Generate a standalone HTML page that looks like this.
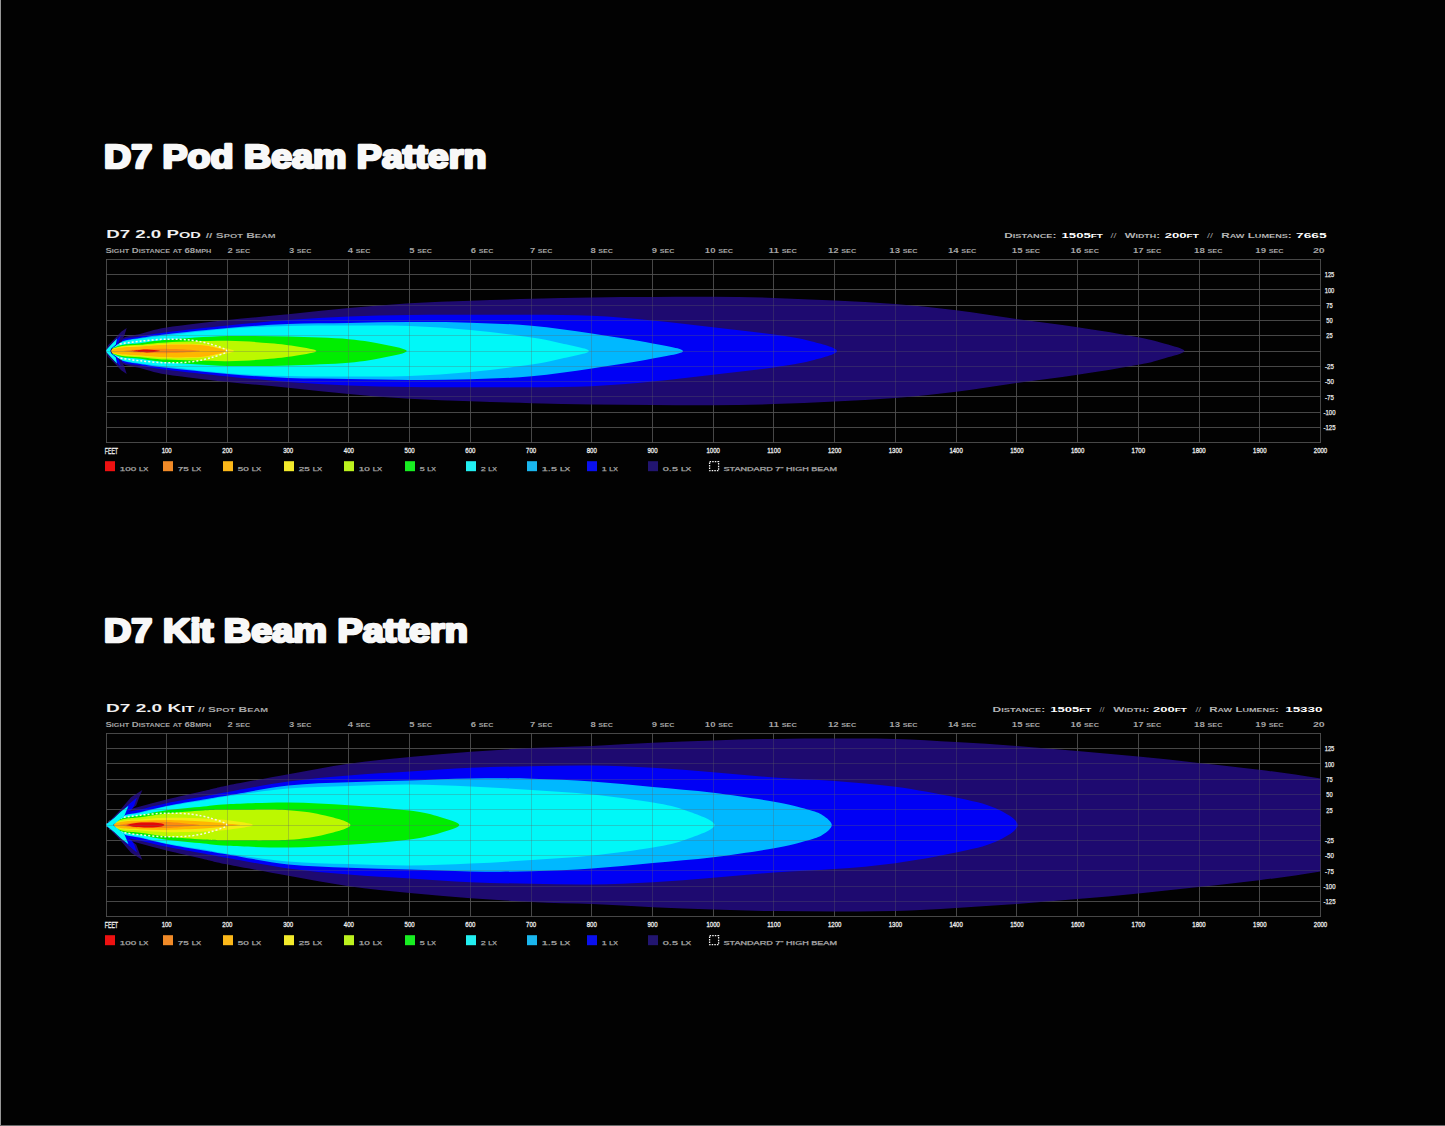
<!DOCTYPE html>
<html><head><meta charset="utf-8"><title>D7 Beam Pattern</title>
<style>
html,body{margin:0;padding:0;background:#020202;width:1445px;height:1126px;overflow:hidden}
svg{display:block;font-family:"Liberation Sans",sans-serif}
</style></head><body>
<svg width="1445" height="1126" viewBox="0 0 1445 1126">
<rect width="1445" height="1126" fill="#020202"/>
<rect x="0" y="0" width="1" height="1126" fill="#979797"/>
<rect x="0" y="1125" width="1445" height="1" fill="#6a6a6a"/>
<g>
<clipPath id="clip0"><rect x="106.0" y="259.4" width="1214.5" height="183.2"/></clipPath>
<g stroke="#3c3c3c" stroke-width="1" shape-rendering="crispEdges"><line x1="106.5" y1="259.0" x2="106.5" y2="443.0"/><line x1="166.5" y1="259.0" x2="166.5" y2="443.0"/><line x1="227.5" y1="259.0" x2="227.5" y2="443.0"/><line x1="288.5" y1="259.0" x2="288.5" y2="443.0"/><line x1="348.5" y1="259.0" x2="348.5" y2="443.0"/><line x1="409.5" y1="259.0" x2="409.5" y2="443.0"/><line x1="470.5" y1="259.0" x2="470.5" y2="443.0"/><line x1="531.5" y1="259.0" x2="531.5" y2="443.0"/><line x1="591.5" y1="259.0" x2="591.5" y2="443.0"/><line x1="652.5" y1="259.0" x2="652.5" y2="443.0"/><line x1="713.5" y1="259.0" x2="713.5" y2="443.0"/><line x1="773.5" y1="259.0" x2="773.5" y2="443.0"/><line x1="834.5" y1="259.0" x2="834.5" y2="443.0"/><line x1="895.5" y1="259.0" x2="895.5" y2="443.0"/><line x1="956.5" y1="259.0" x2="956.5" y2="443.0"/><line x1="1016.5" y1="259.0" x2="1016.5" y2="443.0"/><line x1="1077.5" y1="259.0" x2="1077.5" y2="443.0"/><line x1="1138.5" y1="259.0" x2="1138.5" y2="443.0"/><line x1="1199.5" y1="259.0" x2="1199.5" y2="443.0"/><line x1="1259.5" y1="259.0" x2="1259.5" y2="443.0"/><line x1="1320.5" y1="259.0" x2="1320.5" y2="443.0"/><line x1="106.0" y1="259.5" x2="1321.0" y2="259.5"/><line x1="106.0" y1="274.5" x2="1321.0" y2="274.5"/><line x1="106.0" y1="289.5" x2="1321.0" y2="289.5"/><line x1="106.0" y1="305.5" x2="1321.0" y2="305.5"/><line x1="106.0" y1="320.5" x2="1321.0" y2="320.5"/><line x1="106.0" y1="335.5" x2="1321.0" y2="335.5"/><line x1="106.0" y1="351.5" x2="1321.0" y2="351.5"/><line x1="106.0" y1="366.5" x2="1321.0" y2="366.5"/><line x1="106.0" y1="381.5" x2="1321.0" y2="381.5"/><line x1="106.0" y1="396.5" x2="1321.0" y2="396.5"/><line x1="106.0" y1="412.5" x2="1321.0" y2="412.5"/><line x1="106.0" y1="427.5" x2="1321.0" y2="427.5"/><line x1="106.0" y1="442.5" x2="1321.0" y2="442.5"/></g>
<g clip-path="url(#clip0)">
<path fill="#1e0a70" d="M106.00,351.00 C108.67,348.92 116.33,341.33 122.00,338.50 C127.67,335.67 132.57,335.83 140.00,334.00 C147.43,332.17 152.00,329.83 166.60,327.50 C181.20,325.17 207.33,322.20 227.60,320.00 C247.87,317.80 268.02,316.30 288.20,314.30 C308.38,312.30 328.48,309.85 348.70,308.00 C368.92,306.15 389.18,304.42 409.50,303.20 C429.82,301.98 450.27,301.43 470.60,300.70 C490.93,299.97 511.30,299.35 531.50,298.80 C551.70,298.25 571.60,297.70 591.80,297.40 C612.00,297.10 632.48,297.10 652.70,297.00 C672.92,296.90 692.92,296.65 713.10,296.80 C733.28,296.95 753.53,297.28 773.80,297.90 C794.07,298.52 814.43,299.48 834.70,300.50 C854.97,301.52 875.13,302.38 895.40,304.00 C915.67,305.62 936.10,307.70 956.30,310.20 C976.50,312.70 996.37,316.17 1016.60,319.00 C1036.83,321.83 1057.37,324.17 1077.70,327.20 C1098.03,330.23 1124.05,334.43 1138.60,337.20 C1153.15,339.97 1157.37,341.50 1165.00,343.80 C1172.63,346.10 1184.40,348.60 1184.40,351.00 C1184.40,353.40 1172.63,355.90 1165.00,358.20 C1157.37,360.50 1153.15,362.03 1138.60,364.80 C1124.05,367.57 1098.03,371.77 1077.70,374.80 C1057.37,377.83 1036.83,380.17 1016.60,383.00 C996.37,385.83 976.50,389.30 956.30,391.80 C936.10,394.30 915.67,396.38 895.40,398.00 C875.13,399.62 854.97,400.48 834.70,401.50 C814.43,402.52 794.07,403.48 773.80,404.10 C753.53,404.72 733.28,405.05 713.10,405.20 C692.92,405.35 672.92,405.10 652.70,405.00 C632.48,404.90 612.00,404.90 591.80,404.60 C571.60,404.30 551.70,403.75 531.50,403.20 C511.30,402.65 490.93,402.03 470.60,401.30 C450.27,400.57 429.82,400.02 409.50,398.80 C389.18,397.58 368.92,395.85 348.70,394.00 C328.48,392.15 308.38,389.70 288.20,387.70 C268.02,385.70 247.87,384.20 227.60,382.00 C207.33,379.80 181.20,376.83 166.60,374.50 C152.00,372.17 147.43,369.83 140.00,368.00 C132.57,366.17 127.67,366.33 122.00,363.50 C116.33,360.67 108.67,353.08 106.00,351.00 Z"/>
<path fill="#0000f5" d="M106.00,351.00 C108.67,349.17 116.33,342.42 122.00,340.00 C127.67,337.58 132.57,337.80 140.00,336.50 C147.43,335.20 152.00,334.03 166.60,332.20 C181.20,330.37 207.33,327.53 227.60,325.50 C247.87,323.47 268.02,321.50 288.20,320.00 C308.38,318.50 328.48,317.33 348.70,316.50 C368.92,315.67 389.18,315.28 409.50,315.00 C429.82,314.72 450.27,314.85 470.60,314.80 C490.93,314.75 511.30,314.53 531.50,314.70 C551.70,314.87 571.60,314.85 591.80,315.80 C612.00,316.75 632.48,318.50 652.70,320.40 C672.92,322.30 692.92,324.83 713.10,327.20 C733.28,329.57 757.65,332.30 773.80,334.60 C789.95,336.90 799.47,338.27 810.00,341.00 C820.53,343.73 837.00,347.67 837.00,351.00 C837.00,354.33 820.53,358.27 810.00,361.00 C799.47,363.73 789.95,365.10 773.80,367.40 C757.65,369.70 733.28,372.43 713.10,374.80 C692.92,377.17 672.92,379.70 652.70,381.60 C632.48,383.50 612.00,385.25 591.80,386.20 C571.60,387.15 551.70,387.13 531.50,387.30 C511.30,387.47 490.93,387.25 470.60,387.20 C450.27,387.15 429.82,387.28 409.50,387.00 C389.18,386.72 368.92,386.33 348.70,385.50 C328.48,384.67 308.38,383.50 288.20,382.00 C268.02,380.50 247.87,378.53 227.60,376.50 C207.33,374.47 181.20,371.63 166.60,369.80 C152.00,367.97 147.43,366.80 140.00,365.50 C132.57,364.20 127.67,364.42 122.00,362.00 C116.33,359.58 108.67,352.83 106.00,351.00 Z"/>
<path fill="#00b8ff" d="M106.00,351.00 C108.67,349.42 116.33,343.67 122.00,341.50 C127.67,339.33 132.57,339.22 140.00,338.00 C147.43,336.78 152.00,335.87 166.60,334.20 C181.20,332.53 207.33,329.70 227.60,328.00 C247.87,326.30 268.02,324.83 288.20,324.00 C308.38,323.17 328.48,323.32 348.70,323.00 C368.92,322.68 389.18,322.15 409.50,322.10 C429.82,322.05 450.27,322.10 470.60,322.70 C490.93,323.30 511.30,323.92 531.50,325.70 C551.70,327.48 571.60,330.45 591.80,333.40 C612.00,336.35 637.48,340.47 652.70,343.40 C667.92,346.33 683.10,348.47 683.10,351.00 C683.10,353.53 667.92,355.67 652.70,358.60 C637.48,361.53 612.00,365.65 591.80,368.60 C571.60,371.55 551.70,374.52 531.50,376.30 C511.30,378.08 490.93,378.70 470.60,379.30 C450.27,379.90 429.82,379.95 409.50,379.90 C389.18,379.85 368.92,379.32 348.70,379.00 C328.48,378.68 308.38,378.83 288.20,378.00 C268.02,377.17 247.87,375.70 227.60,374.00 C207.33,372.30 181.20,369.47 166.60,367.80 C152.00,366.13 147.43,365.22 140.00,364.00 C132.57,362.78 127.67,362.67 122.00,360.50 C116.33,358.33 108.67,352.58 106.00,351.00 Z"/>
<path fill="#00f8f8" d="M106.00,351.00 C108.67,349.50 116.33,344.05 122.00,342.00 C127.67,339.95 132.57,339.78 140.00,338.70 C147.43,337.62 152.00,337.17 166.60,335.50 C181.20,333.83 207.33,330.28 227.60,328.70 C247.87,327.12 268.02,326.53 288.20,326.00 C308.38,325.47 328.48,325.50 348.70,325.50 C368.92,325.50 389.18,325.25 409.50,326.00 C429.82,326.75 450.27,328.10 470.60,330.00 C490.93,331.90 516.27,335.15 531.50,337.40 C546.73,339.65 552.43,341.23 562.00,343.50 C571.57,345.77 588.90,348.50 588.90,351.00 C588.90,353.50 571.57,356.23 562.00,358.50 C552.43,360.77 546.73,362.35 531.50,364.60 C516.27,366.85 490.93,370.10 470.60,372.00 C450.27,373.90 429.82,375.25 409.50,376.00 C389.18,376.75 368.92,376.50 348.70,376.50 C328.48,376.50 308.38,376.53 288.20,376.00 C268.02,375.47 247.87,374.88 227.60,373.30 C207.33,371.72 181.20,368.17 166.60,366.50 C152.00,364.83 147.43,364.38 140.00,363.30 C132.57,362.22 127.67,362.05 122.00,360.00 C116.33,357.95 108.67,352.50 106.00,351.00 Z"/>
<path fill="#00ee00" d="M106.00,351.00 C108.67,350.00 116.33,346.30 122.00,345.00 C127.67,343.70 132.57,344.07 140.00,343.20 C147.43,342.33 152.00,340.98 166.60,339.80 C181.20,338.62 207.33,336.63 227.60,336.10 C247.87,335.57 268.02,336.08 288.20,336.60 C308.38,337.12 332.57,337.85 348.70,339.20 C364.83,340.55 375.32,342.73 385.00,344.70 C394.68,346.67 406.80,348.90 406.80,351.00 C406.80,353.10 394.68,355.33 385.00,357.30 C375.32,359.27 364.83,361.45 348.70,362.80 C332.57,364.15 308.38,364.88 288.20,365.40 C268.02,365.92 247.87,366.43 227.60,365.90 C207.33,365.37 181.20,363.38 166.60,362.20 C152.00,361.02 147.43,359.67 140.00,358.80 C132.57,357.93 127.67,358.30 122.00,357.00 C116.33,355.70 108.67,352.00 106.00,351.00 Z"/>
<path fill="#bcf800" d="M106.00,351.00 C108.67,350.17 116.33,347.03 122.00,346.00 C127.67,344.97 132.57,345.40 140.00,344.80 C147.43,344.20 152.00,343.07 166.60,342.40 C181.20,341.73 210.37,340.67 227.60,340.80 C244.83,340.93 258.43,342.25 270.00,343.20 C281.57,344.15 289.25,345.20 297.00,346.50 C304.75,347.80 316.50,349.50 316.50,351.00 C316.50,352.50 304.75,354.20 297.00,355.50 C289.25,356.80 281.57,357.85 270.00,358.80 C258.43,359.75 244.83,361.07 227.60,361.20 C210.37,361.33 181.20,360.27 166.60,359.60 C152.00,358.93 147.43,357.80 140.00,357.20 C132.57,356.60 127.67,357.03 122.00,356.00 C116.33,354.97 108.67,351.83 106.00,351.00 Z"/>
<path fill="#f2ee10" d="M106.00,351.00 C108.67,350.30 116.33,347.67 122.00,346.80 C127.67,345.93 132.57,346.28 140.00,345.80 C147.43,345.32 156.60,344.17 166.60,343.90 C176.60,343.63 190.77,343.60 200.00,344.20 C209.23,344.80 216.33,346.37 222.00,347.50 C227.67,348.63 234.00,349.83 234.00,351.00 C234.00,352.17 227.67,353.37 222.00,354.50 C216.33,355.63 209.23,357.20 200.00,357.80 C190.77,358.40 176.60,358.37 166.60,358.10 C156.60,357.83 147.43,356.68 140.00,356.20 C132.57,355.72 127.67,356.07 122.00,355.20 C116.33,354.33 108.67,351.70 106.00,351.00 Z"/>
<path fill="#ffb600" d="M106.00,351.00 C108.67,350.43 116.33,348.33 122.00,347.60 C127.67,346.87 132.57,347.07 140.00,346.60 C147.43,346.13 156.60,345.07 166.60,344.80 C176.60,344.53 191.93,344.55 200.00,345.00 C208.07,345.45 210.67,346.50 215.00,347.50 C219.33,348.50 226.00,349.83 226.00,351.00 C226.00,352.17 219.33,353.50 215.00,354.50 C210.67,355.50 208.07,356.55 200.00,357.00 C191.93,357.45 176.60,357.47 166.60,357.20 C156.60,356.93 147.43,355.87 140.00,355.40 C132.57,354.93 127.67,355.13 122.00,354.40 C116.33,353.67 108.67,351.57 106.00,351.00 Z"/>
<path fill="#fa8a10" d="M122.00,351.00 C124.50,350.73 130.67,349.77 137.00,349.40 C143.33,349.03 152.00,348.78 160.00,348.80 C168.00,348.82 178.33,349.13 185.00,349.50 C191.67,349.87 200.00,350.50 200.00,351.00 C200.00,351.50 191.67,352.13 185.00,352.50 C178.33,352.87 168.00,353.18 160.00,353.20 C152.00,353.22 143.33,352.97 137.00,352.60 C130.67,352.23 124.50,351.27 122.00,351.00 Z"/>
<path fill="#e20808" d="M130.50,351.00 C132.08,350.83 137.25,350.23 140.00,350.00 C142.75,349.77 144.67,349.58 147.00,349.60 C149.33,349.62 151.83,349.87 154.00,350.10 C156.17,350.33 160.00,350.70 160.00,351.00 C160.00,351.30 156.17,351.67 154.00,351.90 C151.83,352.13 149.33,352.38 147.00,352.40 C144.67,352.42 142.75,352.23 140.00,352.00 C137.25,351.77 132.08,351.17 130.50,351.00 Z"/>
<path d="M106.00,351.00 C107.00,350.17 109.92,347.13 112.00,346.00 C114.08,344.87 113.83,345.00 118.50,344.20 C123.17,343.40 132.00,342.03 140.00,341.20 C148.00,340.37 158.00,339.37 166.50,339.20 C175.00,339.03 183.65,339.37 191.00,340.20 C198.35,341.03 204.63,342.40 210.60,344.20 C216.57,346.00 226.80,348.73 226.80,351.00 C226.80,353.27 216.57,356.00 210.60,357.80 C204.63,359.60 198.35,360.97 191.00,361.80 C183.65,362.63 175.00,362.97 166.50,362.80 C158.00,362.63 148.00,361.63 140.00,360.80 C132.00,359.97 123.17,358.60 118.50,357.80 C113.83,357.00 114.08,357.13 112.00,356.00 C109.92,354.87 107.00,351.83 106.00,351.00 Z" fill="none" stroke="#f6f6e6" stroke-width="1.5" stroke-dasharray="2 2"/>
<polygon fill="#1e0a70" points="105.40,351.00 108.00,345.20 115.00,338.30 121.20,331.80 126.70,327.90 124.60,334.80 121.70,341.50 113.00,347.50 111.00,351.00 113.00,354.50 121.70,360.50 124.60,367.20 126.70,374.10 121.20,370.20 115.00,363.70 108.00,356.80"/>
<polygon fill="#0000f5" points="105.40,351.00 108.60,348.20 114.20,342.30 120.60,335.60 119.00,341.80 117.50,344.20 111.50,348.60 110.00,351.00 111.50,353.40 117.50,357.80 119.00,360.20 120.60,366.40 114.20,359.70 108.60,353.80"/>
<polygon fill="#00f8f8" points="105.40,351.00 107.60,348.40 112.00,343.80 117.00,338.60 115.80,344.60 111.20,348.60 110.20,351.00 111.20,353.40 115.80,357.40 117.00,363.40 112.00,358.20 107.60,353.60"/>
</g>
<g stroke="rgba(100,100,100,0.3)" stroke-width="1" shape-rendering="crispEdges"><line x1="106.5" y1="259.0" x2="106.5" y2="443.0"/><line x1="166.5" y1="259.0" x2="166.5" y2="443.0"/><line x1="227.5" y1="259.0" x2="227.5" y2="443.0"/><line x1="288.5" y1="259.0" x2="288.5" y2="443.0"/><line x1="348.5" y1="259.0" x2="348.5" y2="443.0"/><line x1="409.5" y1="259.0" x2="409.5" y2="443.0"/><line x1="470.5" y1="259.0" x2="470.5" y2="443.0"/><line x1="531.5" y1="259.0" x2="531.5" y2="443.0"/><line x1="591.5" y1="259.0" x2="591.5" y2="443.0"/><line x1="652.5" y1="259.0" x2="652.5" y2="443.0"/><line x1="713.5" y1="259.0" x2="713.5" y2="443.0"/><line x1="773.5" y1="259.0" x2="773.5" y2="443.0"/><line x1="834.5" y1="259.0" x2="834.5" y2="443.0"/><line x1="895.5" y1="259.0" x2="895.5" y2="443.0"/><line x1="956.5" y1="259.0" x2="956.5" y2="443.0"/><line x1="1016.5" y1="259.0" x2="1016.5" y2="443.0"/><line x1="1077.5" y1="259.0" x2="1077.5" y2="443.0"/><line x1="1138.5" y1="259.0" x2="1138.5" y2="443.0"/><line x1="1199.5" y1="259.0" x2="1199.5" y2="443.0"/><line x1="1259.5" y1="259.0" x2="1259.5" y2="443.0"/><line x1="1320.5" y1="259.0" x2="1320.5" y2="443.0"/><line x1="106.0" y1="259.5" x2="1321.0" y2="259.5"/><line x1="106.0" y1="274.5" x2="1321.0" y2="274.5"/><line x1="106.0" y1="289.5" x2="1321.0" y2="289.5"/><line x1="106.0" y1="305.5" x2="1321.0" y2="305.5"/><line x1="106.0" y1="320.5" x2="1321.0" y2="320.5"/><line x1="106.0" y1="335.5" x2="1321.0" y2="335.5"/><line x1="106.0" y1="351.5" x2="1321.0" y2="351.5"/><line x1="106.0" y1="366.5" x2="1321.0" y2="366.5"/><line x1="106.0" y1="381.5" x2="1321.0" y2="381.5"/><line x1="106.0" y1="396.5" x2="1321.0" y2="396.5"/><line x1="106.0" y1="412.5" x2="1321.0" y2="412.5"/><line x1="106.0" y1="427.5" x2="1321.0" y2="427.5"/><line x1="106.0" y1="442.5" x2="1321.0" y2="442.5"/></g>
</g>
<g>
<clipPath id="clip474"><rect x="106.0" y="733.4" width="1214.5" height="183.2"/></clipPath>
<g stroke="#3c3c3c" stroke-width="1" shape-rendering="crispEdges"><line x1="106.5" y1="733.0" x2="106.5" y2="917.0"/><line x1="166.5" y1="733.0" x2="166.5" y2="917.0"/><line x1="227.5" y1="733.0" x2="227.5" y2="917.0"/><line x1="288.5" y1="733.0" x2="288.5" y2="917.0"/><line x1="348.5" y1="733.0" x2="348.5" y2="917.0"/><line x1="409.5" y1="733.0" x2="409.5" y2="917.0"/><line x1="470.5" y1="733.0" x2="470.5" y2="917.0"/><line x1="531.5" y1="733.0" x2="531.5" y2="917.0"/><line x1="591.5" y1="733.0" x2="591.5" y2="917.0"/><line x1="652.5" y1="733.0" x2="652.5" y2="917.0"/><line x1="713.5" y1="733.0" x2="713.5" y2="917.0"/><line x1="773.5" y1="733.0" x2="773.5" y2="917.0"/><line x1="834.5" y1="733.0" x2="834.5" y2="917.0"/><line x1="895.5" y1="733.0" x2="895.5" y2="917.0"/><line x1="956.5" y1="733.0" x2="956.5" y2="917.0"/><line x1="1016.5" y1="733.0" x2="1016.5" y2="917.0"/><line x1="1077.5" y1="733.0" x2="1077.5" y2="917.0"/><line x1="1138.5" y1="733.0" x2="1138.5" y2="917.0"/><line x1="1199.5" y1="733.0" x2="1199.5" y2="917.0"/><line x1="1259.5" y1="733.0" x2="1259.5" y2="917.0"/><line x1="1320.5" y1="733.0" x2="1320.5" y2="917.0"/><line x1="106.0" y1="733.5" x2="1321.0" y2="733.5"/><line x1="106.0" y1="748.5" x2="1321.0" y2="748.5"/><line x1="106.0" y1="763.5" x2="1321.0" y2="763.5"/><line x1="106.0" y1="779.5" x2="1321.0" y2="779.5"/><line x1="106.0" y1="794.5" x2="1321.0" y2="794.5"/><line x1="106.0" y1="809.5" x2="1321.0" y2="809.5"/><line x1="106.0" y1="825.5" x2="1321.0" y2="825.5"/><line x1="106.0" y1="840.5" x2="1321.0" y2="840.5"/><line x1="106.0" y1="855.5" x2="1321.0" y2="855.5"/><line x1="106.0" y1="870.5" x2="1321.0" y2="870.5"/><line x1="106.0" y1="886.5" x2="1321.0" y2="886.5"/><line x1="106.0" y1="901.5" x2="1321.0" y2="901.5"/><line x1="106.0" y1="916.5" x2="1321.0" y2="916.5"/></g>
<g clip-path="url(#clip474)">
<path fill="#1e0a70" d="M106.00,825.00 C109.00,822.75 118.33,814.58 124.00,811.50 C129.67,808.42 132.92,808.50 140.00,806.50 C147.08,804.50 155.93,802.08 166.50,799.50 C177.07,796.92 193.22,793.35 203.40,791.00 C213.58,788.65 213.43,788.20 227.60,785.40 C241.77,782.60 268.22,777.80 288.40,774.20 C308.58,770.60 328.47,766.67 348.70,763.80 C368.93,760.93 389.50,759.00 409.80,757.00 C430.10,755.00 450.20,753.28 470.50,751.80 C490.80,750.32 511.37,749.08 531.60,748.10 C551.83,747.12 571.68,746.80 591.90,745.90 C612.12,745.00 632.67,743.62 652.90,742.70 C673.13,741.78 693.10,741.03 713.30,740.40 C733.50,739.77 753.88,739.22 774.10,738.90 C794.32,738.58 814.40,738.50 834.60,738.50 C854.80,738.50 875.07,738.32 895.30,738.90 C915.53,739.48 935.73,740.83 956.00,742.00 C976.27,743.17 996.63,744.42 1016.90,745.90 C1037.17,747.38 1057.35,749.13 1077.60,750.90 C1097.85,752.67 1118.20,754.50 1138.40,756.50 C1158.60,758.50 1178.65,760.70 1198.80,762.90 C1218.95,765.10 1239.02,767.08 1259.30,769.70 C1279.58,772.32 1300.38,775.38 1320.50,778.60 C1340.62,781.82 1363.42,784.60 1380.00,789.00 C1396.58,793.40 1410.00,799.00 1420.00,805.00 C1430.00,811.00 1440.00,818.33 1440.00,825.00 C1440.00,831.67 1430.00,839.00 1420.00,845.00 C1410.00,851.00 1396.58,856.60 1380.00,861.00 C1363.42,865.40 1340.62,868.18 1320.50,871.40 C1300.38,874.62 1279.58,877.68 1259.30,880.30 C1239.02,882.92 1218.95,884.90 1198.80,887.10 C1178.65,889.30 1158.60,891.50 1138.40,893.50 C1118.20,895.50 1097.85,897.33 1077.60,899.10 C1057.35,900.87 1037.17,902.62 1016.90,904.10 C996.63,905.58 976.27,906.83 956.00,908.00 C935.73,909.17 915.53,910.52 895.30,911.10 C875.07,911.68 854.80,911.50 834.60,911.50 C814.40,911.50 794.32,911.42 774.10,911.10 C753.88,910.78 733.50,910.23 713.30,909.60 C693.10,908.97 673.13,908.22 652.90,907.30 C632.67,906.38 612.12,905.00 591.90,904.10 C571.68,903.20 551.83,902.88 531.60,901.90 C511.37,900.92 490.80,899.68 470.50,898.20 C450.20,896.72 430.10,895.00 409.80,893.00 C389.50,891.00 368.93,889.07 348.70,886.20 C328.47,883.33 308.58,879.40 288.40,875.80 C268.22,872.20 241.77,867.40 227.60,864.60 C213.43,861.80 213.58,861.35 203.40,859.00 C193.22,856.65 177.07,853.08 166.50,850.50 C155.93,847.92 147.08,845.50 140.00,843.50 C132.92,841.50 129.67,841.58 124.00,838.50 C118.33,835.42 109.00,827.25 106.00,825.00 Z"/>
<path fill="#0000f5" d="M106.00,825.00 C109.00,823.08 118.33,816.08 124.00,813.50 C129.67,810.92 132.92,811.22 140.00,809.50 C147.08,807.78 155.93,805.37 166.50,803.20 C177.07,801.03 193.22,798.37 203.40,796.50 C213.58,794.63 213.43,794.50 227.60,792.00 C241.77,789.50 268.22,784.25 288.40,781.50 C308.58,778.75 328.47,777.17 348.70,775.50 C368.93,773.83 389.50,772.78 409.80,771.50 C430.10,770.22 450.20,768.68 470.50,767.80 C490.80,766.92 511.37,766.58 531.60,766.20 C551.83,765.82 571.68,765.23 591.90,765.50 C612.12,765.77 632.67,766.68 652.90,767.80 C673.13,768.92 693.10,770.58 713.30,772.20 C733.50,773.82 753.88,776.05 774.10,777.50 C794.32,778.95 814.40,779.35 834.60,780.90 C854.80,782.45 875.07,784.03 895.30,786.80 C915.53,789.57 939.38,793.97 956.00,797.50 C972.62,801.03 984.73,803.42 995.00,808.00 C1005.27,812.58 1017.60,819.33 1017.60,825.00 C1017.60,830.67 1005.27,837.42 995.00,842.00 C984.73,846.58 972.62,848.97 956.00,852.50 C939.38,856.03 915.53,860.43 895.30,863.20 C875.07,865.97 854.80,867.55 834.60,869.10 C814.40,870.65 794.32,871.05 774.10,872.50 C753.88,873.95 733.50,876.18 713.30,877.80 C693.10,879.42 673.13,881.08 652.90,882.20 C632.67,883.32 612.12,884.23 591.90,884.50 C571.68,884.77 551.83,884.18 531.60,883.80 C511.37,883.42 490.80,883.08 470.50,882.20 C450.20,881.32 430.10,879.78 409.80,878.50 C389.50,877.22 368.93,876.17 348.70,874.50 C328.47,872.83 308.58,871.25 288.40,868.50 C268.22,865.75 241.77,860.50 227.60,858.00 C213.43,855.50 213.58,855.37 203.40,853.50 C193.22,851.63 177.07,848.97 166.50,846.80 C155.93,844.63 147.08,842.22 140.00,840.50 C132.92,838.78 129.67,839.08 124.00,836.50 C118.33,833.92 109.00,826.92 106.00,825.00 Z"/>
<path fill="#00b8ff" d="M106.00,825.00 C109.00,823.42 118.33,817.63 124.00,815.50 C129.67,813.37 132.92,813.78 140.00,812.20 C147.08,810.62 155.93,808.12 166.50,806.00 C177.07,803.88 193.22,801.25 203.40,799.50 C213.58,797.75 213.43,797.83 227.60,795.50 C241.77,793.17 268.22,787.70 288.40,785.50 C308.58,783.30 328.47,783.13 348.70,782.30 C368.93,781.47 389.50,781.12 409.80,780.50 C430.10,779.88 450.20,778.90 470.50,778.60 C490.80,778.30 511.37,778.22 531.60,778.70 C551.83,779.18 571.68,780.12 591.90,781.50 C612.12,782.88 632.67,785.12 652.90,787.00 C673.13,788.88 693.10,790.33 713.30,792.80 C733.50,795.27 758.40,799.02 774.10,801.80 C789.80,804.58 799.42,807.27 807.50,809.50 C815.58,811.73 818.55,812.62 822.60,815.20 C826.65,817.78 831.80,821.73 831.80,825.00 C831.80,828.27 826.65,832.22 822.60,834.80 C818.55,837.38 815.58,838.27 807.50,840.50 C799.42,842.73 789.80,845.42 774.10,848.20 C758.40,850.98 733.50,854.73 713.30,857.20 C693.10,859.67 673.13,861.12 652.90,863.00 C632.67,864.88 612.12,867.12 591.90,868.50 C571.68,869.88 551.83,870.82 531.60,871.30 C511.37,871.78 490.80,871.70 470.50,871.40 C450.20,871.10 430.10,870.12 409.80,869.50 C389.50,868.88 368.93,868.53 348.70,867.70 C328.47,866.87 308.58,866.70 288.40,864.50 C268.22,862.30 241.77,856.83 227.60,854.50 C213.43,852.17 213.58,852.25 203.40,850.50 C193.22,848.75 177.07,846.12 166.50,844.00 C155.93,841.88 147.08,839.38 140.00,837.80 C132.92,836.22 129.67,836.63 124.00,834.50 C118.33,832.37 109.00,826.58 106.00,825.00 Z"/>
<path fill="#00f8f8" d="M106.00,825.00 C109.00,823.50 118.33,818.00 124.00,816.00 C129.67,814.00 132.92,814.58 140.00,813.00 C147.08,811.42 155.93,808.58 166.50,806.50 C177.07,804.42 193.22,802.22 203.40,800.50 C213.58,798.78 213.43,798.20 227.60,796.20 C241.77,794.20 268.22,790.22 288.40,788.50 C308.58,786.78 328.47,786.57 348.70,785.90 C368.93,785.23 389.50,784.42 409.80,784.50 C430.10,784.58 450.20,785.50 470.50,786.40 C490.80,787.30 511.37,788.57 531.60,789.90 C551.83,791.23 571.68,792.30 591.90,794.40 C612.12,796.50 637.22,799.82 652.90,802.50 C668.58,805.18 675.72,806.75 686.00,810.50 C696.28,814.25 714.60,820.17 714.60,825.00 C714.60,829.83 696.28,835.75 686.00,839.50 C675.72,843.25 668.58,844.82 652.90,847.50 C637.22,850.18 612.12,853.50 591.90,855.60 C571.68,857.70 551.83,858.77 531.60,860.10 C511.37,861.43 490.80,862.70 470.50,863.60 C450.20,864.50 430.10,865.42 409.80,865.50 C389.50,865.58 368.93,864.77 348.70,864.10 C328.47,863.43 308.58,863.22 288.40,861.50 C268.22,859.78 241.77,855.80 227.60,853.80 C213.43,851.80 213.58,851.22 203.40,849.50 C193.22,847.78 177.07,845.58 166.50,843.50 C155.93,841.42 147.08,838.58 140.00,837.00 C132.92,835.42 129.67,836.00 124.00,834.00 C118.33,832.00 109.00,826.50 106.00,825.00 Z"/>
<path fill="#00ee00" d="M106.00,825.00 C109.00,823.80 118.33,819.43 124.00,817.80 C129.67,816.17 132.92,816.47 140.00,815.20 C147.08,813.93 155.93,811.65 166.50,810.20 C177.07,808.75 193.22,807.50 203.40,806.50 C213.58,805.50 213.43,804.88 227.60,804.20 C241.77,803.52 268.22,802.23 288.40,802.40 C308.58,802.57 328.47,803.83 348.70,805.20 C368.93,806.57 394.58,808.63 409.80,810.60 C425.02,812.57 431.75,814.60 440.00,817.00 C448.25,819.40 459.30,822.33 459.30,825.00 C459.30,827.67 448.25,830.60 440.00,833.00 C431.75,835.40 425.02,837.43 409.80,839.40 C394.58,841.37 368.93,843.43 348.70,844.80 C328.47,846.17 308.58,847.43 288.40,847.60 C268.22,847.77 241.77,846.48 227.60,845.80 C213.43,845.12 213.58,844.50 203.40,843.50 C193.22,842.50 177.07,841.25 166.50,839.80 C155.93,838.35 147.08,836.07 140.00,834.80 C132.92,833.53 129.67,833.83 124.00,832.20 C118.33,830.57 109.00,826.20 106.00,825.00 Z"/>
<path fill="#bcf800" d="M106.00,825.00 C109.00,824.00 118.33,820.30 124.00,819.00 C129.67,817.70 132.92,818.12 140.00,817.20 C147.08,816.28 155.93,814.62 166.50,813.50 C177.07,812.38 193.22,811.12 203.40,810.50 C213.58,809.88 213.43,809.85 227.60,809.80 C241.77,809.75 272.17,809.25 288.40,810.20 C304.63,811.15 314.65,813.03 325.00,815.50 C335.35,817.97 350.50,821.83 350.50,825.00 C350.50,828.17 335.35,832.03 325.00,834.50 C314.65,836.97 304.63,838.85 288.40,839.80 C272.17,840.75 241.77,840.25 227.60,840.20 C213.43,840.15 213.58,840.12 203.40,839.50 C193.22,838.88 177.07,837.62 166.50,836.50 C155.93,835.38 147.08,833.72 140.00,832.80 C132.92,831.88 129.67,832.30 124.00,831.00 C118.33,829.70 109.00,826.00 106.00,825.00 Z"/>
<path fill="#f2ee10" d="M106.00,825.00 C109.00,824.23 118.33,821.33 124.00,820.40 C129.67,819.47 132.92,819.83 140.00,819.40 C147.08,818.97 155.93,817.97 166.50,817.80 C177.07,817.63 192.82,817.95 203.40,818.40 C213.98,818.85 221.73,819.40 230.00,820.50 C238.27,821.60 253.00,823.50 253.00,825.00 C253.00,826.50 238.27,828.40 230.00,829.50 C221.73,830.60 213.98,831.15 203.40,831.60 C192.82,832.05 177.07,832.37 166.50,832.20 C155.93,832.03 147.08,831.03 140.00,830.60 C132.92,830.17 129.67,830.53 124.00,829.60 C118.33,828.67 109.00,825.77 106.00,825.00 Z"/>
<path fill="#ffb600" d="M106.00,825.00 C109.00,824.40 118.33,822.10 124.00,821.40 C129.67,820.70 132.92,821.02 140.00,820.80 C147.08,820.58 155.93,819.98 166.50,820.10 C177.07,820.22 193.65,820.93 203.40,821.50 C213.15,822.07 218.90,822.92 225.00,823.50 C231.10,824.08 240.00,824.50 240.00,825.00 C240.00,825.50 231.10,825.92 225.00,826.50 C218.90,827.08 213.15,827.93 203.40,828.50 C193.65,829.07 177.07,829.78 166.50,829.90 C155.93,830.02 147.08,829.42 140.00,829.20 C132.92,828.98 129.67,829.30 124.00,828.60 C118.33,827.90 109.00,825.60 106.00,825.00 Z"/>
<path fill="#fa8a10" d="M118.00,825.00 C121.00,824.57 127.92,822.92 136.00,822.40 C144.08,821.88 158.33,821.73 166.50,821.90 C174.67,822.07 179.42,822.88 185.00,823.40 C190.58,823.92 200.00,824.47 200.00,825.00 C200.00,825.53 190.58,826.08 185.00,826.60 C179.42,827.12 174.67,827.93 166.50,828.10 C158.33,828.27 144.08,828.12 136.00,827.60 C127.92,827.08 121.00,825.43 118.00,825.00 Z"/>
<path fill="#e20808" d="M126.00,825.00 C127.67,824.65 132.00,823.32 136.00,822.90 C140.00,822.48 146.00,822.45 150.00,822.50 C154.00,822.55 157.60,822.78 160.00,823.20 C162.40,823.62 164.40,824.40 164.40,825.00 C164.40,825.60 162.40,826.38 160.00,826.80 C157.60,827.22 154.00,827.45 150.00,827.50 C146.00,827.55 140.00,827.52 136.00,827.10 C132.00,826.68 127.67,825.35 126.00,825.00 Z"/>
<path d="M106.00,825.00 C107.00,824.17 109.92,821.13 112.00,820.00 C114.08,818.87 113.83,819.00 118.50,818.20 C123.17,817.40 132.00,816.03 140.00,815.20 C148.00,814.37 158.00,813.37 166.50,813.20 C175.00,813.03 183.65,813.37 191.00,814.20 C198.35,815.03 204.63,816.40 210.60,818.20 C216.57,820.00 226.80,822.73 226.80,825.00 C226.80,827.27 216.57,830.00 210.60,831.80 C204.63,833.60 198.35,834.97 191.00,835.80 C183.65,836.63 175.00,836.97 166.50,836.80 C158.00,836.63 148.00,835.63 140.00,834.80 C132.00,833.97 123.17,832.60 118.50,831.80 C113.83,831.00 114.08,831.13 112.00,830.00 C109.92,828.87 107.00,825.83 106.00,825.00 Z" fill="none" stroke="#f6f6e6" stroke-width="1.5" stroke-dasharray="2 2"/>
<polygon fill="#1e0a70" points="105.40,825.00 118.20,812.20 131.00,797.30 142.40,790.00 139.00,798.00 136.20,805.60 131.50,809.00 118.00,819.50 113.50,825.00 118.00,830.50 131.50,841.00 136.20,844.40 139.00,852.00 142.40,860.00 131.00,852.70 118.20,837.80"/>
<polygon fill="#0000f5" points="105.40,825.00 117.50,816.00 128.50,804.60 137.00,797.60 134.00,806.00 131.50,809.80 118.00,820.50 112.50,825.00 118.00,829.50 131.50,840.20 134.00,844.00 137.00,852.40 128.50,845.40 117.50,834.00"/>
<polygon fill="#00f8f8" points="105.40,825.00 114.20,818.00 121.00,811.60 128.50,805.80 124.50,815.50 116.80,822.00 113.00,825.00 116.80,828.00 124.50,834.50 128.50,844.20 121.00,838.40 114.20,832.00"/>
</g>
<g stroke="rgba(100,100,100,0.3)" stroke-width="1" shape-rendering="crispEdges"><line x1="106.5" y1="733.0" x2="106.5" y2="917.0"/><line x1="166.5" y1="733.0" x2="166.5" y2="917.0"/><line x1="227.5" y1="733.0" x2="227.5" y2="917.0"/><line x1="288.5" y1="733.0" x2="288.5" y2="917.0"/><line x1="348.5" y1="733.0" x2="348.5" y2="917.0"/><line x1="409.5" y1="733.0" x2="409.5" y2="917.0"/><line x1="470.5" y1="733.0" x2="470.5" y2="917.0"/><line x1="531.5" y1="733.0" x2="531.5" y2="917.0"/><line x1="591.5" y1="733.0" x2="591.5" y2="917.0"/><line x1="652.5" y1="733.0" x2="652.5" y2="917.0"/><line x1="713.5" y1="733.0" x2="713.5" y2="917.0"/><line x1="773.5" y1="733.0" x2="773.5" y2="917.0"/><line x1="834.5" y1="733.0" x2="834.5" y2="917.0"/><line x1="895.5" y1="733.0" x2="895.5" y2="917.0"/><line x1="956.5" y1="733.0" x2="956.5" y2="917.0"/><line x1="1016.5" y1="733.0" x2="1016.5" y2="917.0"/><line x1="1077.5" y1="733.0" x2="1077.5" y2="917.0"/><line x1="1138.5" y1="733.0" x2="1138.5" y2="917.0"/><line x1="1199.5" y1="733.0" x2="1199.5" y2="917.0"/><line x1="1259.5" y1="733.0" x2="1259.5" y2="917.0"/><line x1="1320.5" y1="733.0" x2="1320.5" y2="917.0"/><line x1="106.0" y1="733.5" x2="1321.0" y2="733.5"/><line x1="106.0" y1="748.5" x2="1321.0" y2="748.5"/><line x1="106.0" y1="763.5" x2="1321.0" y2="763.5"/><line x1="106.0" y1="779.5" x2="1321.0" y2="779.5"/><line x1="106.0" y1="794.5" x2="1321.0" y2="794.5"/><line x1="106.0" y1="809.5" x2="1321.0" y2="809.5"/><line x1="106.0" y1="825.5" x2="1321.0" y2="825.5"/><line x1="106.0" y1="840.5" x2="1321.0" y2="840.5"/><line x1="106.0" y1="855.5" x2="1321.0" y2="855.5"/><line x1="106.0" y1="870.5" x2="1321.0" y2="870.5"/><line x1="106.0" y1="886.5" x2="1321.0" y2="886.5"/><line x1="106.0" y1="901.5" x2="1321.0" y2="901.5"/><line x1="106.0" y1="916.5" x2="1321.0" y2="916.5"/></g>
</g>
<text x="106.2" y="238.2" font-weight="bold" fill="#f0f0f0" textLength="94.6" lengthAdjust="spacingAndGlyphs" ><tspan font-size="11.00">D7 2.0 P</tspan><tspan font-size="8.60">OD</tspan></text>
<text x="205.8" y="238.2" font-weight="bold" fill="#a8a8a8" textLength="69.8" lengthAdjust="spacingAndGlyphs" ><tspan font-size="7.90">// S</tspan><tspan font-size="6.20">POT</tspan><tspan font-size="7.90"> B</tspan><tspan font-size="6.20">EAM</tspan></text>
<text x="1004.2" y="238.0" font-weight="bold" fill="#b4b4b4" textLength="52.3" lengthAdjust="spacingAndGlyphs" ><tspan font-size="7.20">D</tspan><tspan font-size="5.60">ISTANCE</tspan><tspan font-size="7.20">:</tspan></text>
<text x="1061.6" y="238.0" font-weight="bold" fill="#ffffff" textLength="41.2" lengthAdjust="spacingAndGlyphs" ><tspan font-size="7.40">1505</tspan><tspan font-size="5.60">FT</tspan></text>
<text x="1110.6" y="238.0" font-weight="normal" fill="#9a9a9a" textLength="5.9" lengthAdjust="spacingAndGlyphs" ><tspan font-size="7.00">//</tspan></text>
<text x="1124.7" y="238.0" font-weight="bold" fill="#b4b4b4" textLength="35.3" lengthAdjust="spacingAndGlyphs" ><tspan font-size="7.20">W</tspan><tspan font-size="5.60">IDTH</tspan><tspan font-size="7.20">:</tspan></text>
<text x="1164.7" y="238.0" font-weight="bold" fill="#ffffff" textLength="34.1" lengthAdjust="spacingAndGlyphs" ><tspan font-size="7.40">200</tspan><tspan font-size="5.60">FT</tspan></text>
<text x="1207.0" y="238.0" font-weight="normal" fill="#9a9a9a" textLength="6.0" lengthAdjust="spacingAndGlyphs" ><tspan font-size="7.00">//</tspan></text>
<text x="1221.2" y="238.0" font-weight="bold" fill="#b4b4b4" textLength="70.6" lengthAdjust="spacingAndGlyphs" ><tspan font-size="7.20">R</tspan><tspan font-size="5.60">AW</tspan><tspan font-size="7.20"> L</tspan><tspan font-size="5.60">UMENS</tspan><tspan font-size="7.20">:</tspan></text>
<text x="1296.0" y="238.0" font-weight="bold" fill="#ffffff" textLength="30.6" lengthAdjust="spacingAndGlyphs" ><tspan font-size="7.40">7665</tspan></text>
<text x="105.4" y="252.6" font-weight="bold" fill="#a4a4a4" textLength="105.9" lengthAdjust="spacingAndGlyphs" ><tspan font-size="6.60">S</tspan><tspan font-size="5.00">IGHT</tspan><tspan font-size="6.60"> D</tspan><tspan font-size="5.00">ISTANCE</tspan><tspan font-size="6.60"> </tspan><tspan font-size="5.00">AT</tspan><tspan font-size="6.60"> 68</tspan><tspan font-size="5.00">MPH</tspan></text>
<text x="227.6" y="252.9" font-weight="bold" fill="#a4a4a4" textLength="22.5" lengthAdjust="spacingAndGlyphs" ><tspan font-size="6.60">2 </tspan><tspan font-size="5.00">SEC</tspan></text>
<text x="289.0" y="252.9" font-weight="bold" fill="#a4a4a4" textLength="22.5" lengthAdjust="spacingAndGlyphs" ><tspan font-size="6.60">3 </tspan><tspan font-size="5.00">SEC</tspan></text>
<text x="347.8" y="252.9" font-weight="bold" fill="#a4a4a4" textLength="22.5" lengthAdjust="spacingAndGlyphs" ><tspan font-size="6.60">4 </tspan><tspan font-size="5.00">SEC</tspan></text>
<text x="409.3" y="252.9" font-weight="bold" fill="#a4a4a4" textLength="22.5" lengthAdjust="spacingAndGlyphs" ><tspan font-size="6.60">5 </tspan><tspan font-size="5.00">SEC</tspan></text>
<text x="470.8" y="252.9" font-weight="bold" fill="#a4a4a4" textLength="22.5" lengthAdjust="spacingAndGlyphs" ><tspan font-size="6.60">6 </tspan><tspan font-size="5.00">SEC</tspan></text>
<text x="529.9" y="252.9" font-weight="bold" fill="#a4a4a4" textLength="22.5" lengthAdjust="spacingAndGlyphs" ><tspan font-size="6.60">7 </tspan><tspan font-size="5.00">SEC</tspan></text>
<text x="590.4" y="252.9" font-weight="bold" fill="#a4a4a4" textLength="22.5" lengthAdjust="spacingAndGlyphs" ><tspan font-size="6.60">8 </tspan><tspan font-size="5.00">SEC</tspan></text>
<text x="651.8" y="252.9" font-weight="bold" fill="#a4a4a4" textLength="22.5" lengthAdjust="spacingAndGlyphs" ><tspan font-size="6.60">9 </tspan><tspan font-size="5.00">SEC</tspan></text>
<text x="704.8" y="252.9" font-weight="bold" fill="#a4a4a4" textLength="28.3" lengthAdjust="spacingAndGlyphs" ><tspan font-size="6.60">10 </tspan><tspan font-size="5.00">SEC</tspan></text>
<text x="768.6" y="252.9" font-weight="bold" fill="#a4a4a4" textLength="28.3" lengthAdjust="spacingAndGlyphs" ><tspan font-size="6.60">11 </tspan><tspan font-size="5.00">SEC</tspan></text>
<text x="827.9" y="252.9" font-weight="bold" fill="#a4a4a4" textLength="28.3" lengthAdjust="spacingAndGlyphs" ><tspan font-size="6.60">12 </tspan><tspan font-size="5.00">SEC</tspan></text>
<text x="889.3" y="252.9" font-weight="bold" fill="#a4a4a4" textLength="28.3" lengthAdjust="spacingAndGlyphs" ><tspan font-size="6.60">13 </tspan><tspan font-size="5.00">SEC</tspan></text>
<text x="948.0" y="252.9" font-weight="bold" fill="#a4a4a4" textLength="28.3" lengthAdjust="spacingAndGlyphs" ><tspan font-size="6.60">14 </tspan><tspan font-size="5.00">SEC</tspan></text>
<text x="1011.8" y="252.9" font-weight="bold" fill="#a4a4a4" textLength="28.3" lengthAdjust="spacingAndGlyphs" ><tspan font-size="6.60">15 </tspan><tspan font-size="5.00">SEC</tspan></text>
<text x="1070.6" y="252.9" font-weight="bold" fill="#a4a4a4" textLength="28.3" lengthAdjust="spacingAndGlyphs" ><tspan font-size="6.60">16 </tspan><tspan font-size="5.00">SEC</tspan></text>
<text x="1132.9" y="252.9" font-weight="bold" fill="#a4a4a4" textLength="28.3" lengthAdjust="spacingAndGlyphs" ><tspan font-size="6.60">17 </tspan><tspan font-size="5.00">SEC</tspan></text>
<text x="1194.1" y="252.9" font-weight="bold" fill="#a4a4a4" textLength="28.3" lengthAdjust="spacingAndGlyphs" ><tspan font-size="6.60">18 </tspan><tspan font-size="5.00">SEC</tspan></text>
<text x="1255.3" y="252.9" font-weight="bold" fill="#a4a4a4" textLength="28.3" lengthAdjust="spacingAndGlyphs" ><tspan font-size="6.60">19 </tspan><tspan font-size="5.00">SEC</tspan></text>
<text x="1312.9" y="252.9" font-weight="bold" fill="#a4a4a4" textLength="11.8" lengthAdjust="spacingAndGlyphs" ><tspan font-size="6.60">20</tspan></text>
<text x="104.8" y="454.2" font-size="9.00" font-weight="normal" fill="#eeeeee" text-anchor="start" textLength="13.2" lengthAdjust="spacingAndGlyphs" stroke="#eeeeee" stroke-width="0.35">FEET</text>
<text x="166.7" y="453.4" font-size="7.60" font-weight="normal" fill="#eeeeee" text-anchor="middle" textLength="10.1" lengthAdjust="spacingAndGlyphs" stroke="#eeeeee" stroke-width="0.3">100</text>
<text x="227.4" y="453.4" font-size="7.60" font-weight="normal" fill="#eeeeee" text-anchor="middle" textLength="10.1" lengthAdjust="spacingAndGlyphs" stroke="#eeeeee" stroke-width="0.3">200</text>
<text x="288.2" y="453.4" font-size="7.60" font-weight="normal" fill="#eeeeee" text-anchor="middle" textLength="10.1" lengthAdjust="spacingAndGlyphs" stroke="#eeeeee" stroke-width="0.3">300</text>
<text x="348.9" y="453.4" font-size="7.60" font-weight="normal" fill="#eeeeee" text-anchor="middle" textLength="10.1" lengthAdjust="spacingAndGlyphs" stroke="#eeeeee" stroke-width="0.3">400</text>
<text x="409.6" y="453.4" font-size="7.60" font-weight="normal" fill="#eeeeee" text-anchor="middle" textLength="10.1" lengthAdjust="spacingAndGlyphs" stroke="#eeeeee" stroke-width="0.3">500</text>
<text x="470.4" y="453.4" font-size="7.60" font-weight="normal" fill="#eeeeee" text-anchor="middle" textLength="10.1" lengthAdjust="spacingAndGlyphs" stroke="#eeeeee" stroke-width="0.3">600</text>
<text x="531.1" y="453.4" font-size="7.60" font-weight="normal" fill="#eeeeee" text-anchor="middle" textLength="10.1" lengthAdjust="spacingAndGlyphs" stroke="#eeeeee" stroke-width="0.3">700</text>
<text x="591.8" y="453.4" font-size="7.60" font-weight="normal" fill="#eeeeee" text-anchor="middle" textLength="10.1" lengthAdjust="spacingAndGlyphs" stroke="#eeeeee" stroke-width="0.3">800</text>
<text x="652.5" y="453.4" font-size="7.60" font-weight="normal" fill="#eeeeee" text-anchor="middle" textLength="10.1" lengthAdjust="spacingAndGlyphs" stroke="#eeeeee" stroke-width="0.3">900</text>
<text x="713.2" y="453.4" font-size="7.60" font-weight="normal" fill="#eeeeee" text-anchor="middle" textLength="13.4" lengthAdjust="spacingAndGlyphs" stroke="#eeeeee" stroke-width="0.3">1000</text>
<text x="774.0" y="453.4" font-size="7.60" font-weight="normal" fill="#eeeeee" text-anchor="middle" textLength="13.4" lengthAdjust="spacingAndGlyphs" stroke="#eeeeee" stroke-width="0.3">1100</text>
<text x="834.7" y="453.4" font-size="7.60" font-weight="normal" fill="#eeeeee" text-anchor="middle" textLength="13.4" lengthAdjust="spacingAndGlyphs" stroke="#eeeeee" stroke-width="0.3">1200</text>
<text x="895.4" y="453.4" font-size="7.60" font-weight="normal" fill="#eeeeee" text-anchor="middle" textLength="13.4" lengthAdjust="spacingAndGlyphs" stroke="#eeeeee" stroke-width="0.3">1300</text>
<text x="956.1" y="453.4" font-size="7.60" font-weight="normal" fill="#eeeeee" text-anchor="middle" textLength="13.4" lengthAdjust="spacingAndGlyphs" stroke="#eeeeee" stroke-width="0.3">1400</text>
<text x="1016.9" y="453.4" font-size="7.60" font-weight="normal" fill="#eeeeee" text-anchor="middle" textLength="13.4" lengthAdjust="spacingAndGlyphs" stroke="#eeeeee" stroke-width="0.3">1500</text>
<text x="1077.6" y="453.4" font-size="7.60" font-weight="normal" fill="#eeeeee" text-anchor="middle" textLength="13.4" lengthAdjust="spacingAndGlyphs" stroke="#eeeeee" stroke-width="0.3">1600</text>
<text x="1138.3" y="453.4" font-size="7.60" font-weight="normal" fill="#eeeeee" text-anchor="middle" textLength="13.4" lengthAdjust="spacingAndGlyphs" stroke="#eeeeee" stroke-width="0.3">1700</text>
<text x="1199.0" y="453.4" font-size="7.60" font-weight="normal" fill="#eeeeee" text-anchor="middle" textLength="13.4" lengthAdjust="spacingAndGlyphs" stroke="#eeeeee" stroke-width="0.3">1800</text>
<text x="1259.8" y="453.4" font-size="7.60" font-weight="normal" fill="#eeeeee" text-anchor="middle" textLength="13.4" lengthAdjust="spacingAndGlyphs" stroke="#eeeeee" stroke-width="0.3">1900</text>
<text x="1320.5" y="453.4" font-size="7.60" font-weight="normal" fill="#eeeeee" text-anchor="middle" textLength="13.4" lengthAdjust="spacingAndGlyphs" stroke="#eeeeee" stroke-width="0.3">2000</text>
<text x="1329.5" y="277.4" font-size="7.40" font-weight="normal" fill="#eeeeee" text-anchor="middle" textLength="9.6" lengthAdjust="spacingAndGlyphs" stroke="#eeeeee" stroke-width="0.25">125</text>
<text x="1329.5" y="292.6" font-size="7.40" font-weight="normal" fill="#eeeeee" text-anchor="middle" textLength="9.6" lengthAdjust="spacingAndGlyphs" stroke="#eeeeee" stroke-width="0.25">100</text>
<text x="1329.5" y="307.9" font-size="7.40" font-weight="normal" fill="#eeeeee" text-anchor="middle" textLength="6.4" lengthAdjust="spacingAndGlyphs" stroke="#eeeeee" stroke-width="0.25">75</text>
<text x="1329.5" y="323.2" font-size="7.40" font-weight="normal" fill="#eeeeee" text-anchor="middle" textLength="6.4" lengthAdjust="spacingAndGlyphs" stroke="#eeeeee" stroke-width="0.25">50</text>
<text x="1329.5" y="338.4" font-size="7.40" font-weight="normal" fill="#eeeeee" text-anchor="middle" textLength="6.4" lengthAdjust="spacingAndGlyphs" stroke="#eeeeee" stroke-width="0.25">25</text>
<text x="1329.5" y="369.0" font-size="7.40" font-weight="normal" fill="#eeeeee" text-anchor="middle" textLength="8.8" lengthAdjust="spacingAndGlyphs" stroke="#eeeeee" stroke-width="0.25">-25</text>
<text x="1329.5" y="384.3" font-size="7.40" font-weight="normal" fill="#eeeeee" text-anchor="middle" textLength="8.8" lengthAdjust="spacingAndGlyphs" stroke="#eeeeee" stroke-width="0.25">-50</text>
<text x="1329.5" y="399.5" font-size="7.40" font-weight="normal" fill="#eeeeee" text-anchor="middle" textLength="8.8" lengthAdjust="spacingAndGlyphs" stroke="#eeeeee" stroke-width="0.25">-75</text>
<text x="1329.5" y="414.8" font-size="7.40" font-weight="normal" fill="#eeeeee" text-anchor="middle" textLength="12.0" lengthAdjust="spacingAndGlyphs" stroke="#eeeeee" stroke-width="0.25">-100</text>
<text x="1329.5" y="430.1" font-size="7.40" font-weight="normal" fill="#eeeeee" text-anchor="middle" textLength="12.0" lengthAdjust="spacingAndGlyphs" stroke="#eeeeee" stroke-width="0.25">-125</text>
<rect x="105.0" y="461.2" width="10" height="10" fill="#ee1111"/>
<text x="119.8" y="471.0" font-weight="normal" fill="#a0a0a0" textLength="28.4" lengthAdjust="spacingAndGlyphs" stroke="#a0a0a0" stroke-width="0.25"><tspan font-size="6.00">100 </tspan><tspan font-size="4.60">LX</tspan></text>
<rect x="163.0" y="461.2" width="10" height="10" fill="#f08a28"/>
<text x="177.8" y="471.0" font-weight="normal" fill="#a0a0a0" textLength="23.2" lengthAdjust="spacingAndGlyphs" stroke="#a0a0a0" stroke-width="0.25"><tspan font-size="6.00">75 </tspan><tspan font-size="4.60">LX</tspan></text>
<rect x="223.0" y="461.2" width="10" height="10" fill="#fbb81a"/>
<text x="237.8" y="471.0" font-weight="normal" fill="#a0a0a0" textLength="23.2" lengthAdjust="spacingAndGlyphs" stroke="#a0a0a0" stroke-width="0.25"><tspan font-size="6.00">50 </tspan><tspan font-size="4.60">LX</tspan></text>
<rect x="284.0" y="461.2" width="10" height="10" fill="#f2ea2c"/>
<text x="298.8" y="471.0" font-weight="normal" fill="#a0a0a0" textLength="23.2" lengthAdjust="spacingAndGlyphs" stroke="#a0a0a0" stroke-width="0.25"><tspan font-size="6.00">25 </tspan><tspan font-size="4.60">LX</tspan></text>
<rect x="344.0" y="461.2" width="10" height="10" fill="#bcf11e"/>
<text x="358.8" y="471.0" font-weight="normal" fill="#a0a0a0" textLength="23.2" lengthAdjust="spacingAndGlyphs" stroke="#a0a0a0" stroke-width="0.25"><tspan font-size="6.00">10 </tspan><tspan font-size="4.60">LX</tspan></text>
<rect x="405.0" y="461.2" width="10" height="10" fill="#18ee22"/>
<text x="419.8" y="471.0" font-weight="normal" fill="#a0a0a0" textLength="16.0" lengthAdjust="spacingAndGlyphs" stroke="#a0a0a0" stroke-width="0.25"><tspan font-size="6.00">5 </tspan><tspan font-size="4.60">LX</tspan></text>
<rect x="466.0" y="461.2" width="10" height="10" fill="#22eef0"/>
<text x="480.8" y="471.0" font-weight="normal" fill="#a0a0a0" textLength="16.0" lengthAdjust="spacingAndGlyphs" stroke="#a0a0a0" stroke-width="0.25"><tspan font-size="6.00">2 </tspan><tspan font-size="4.60">LX</tspan></text>
<rect x="527.0" y="461.2" width="10" height="10" fill="#1ab6ee"/>
<text x="541.8" y="471.0" font-weight="normal" fill="#a0a0a0" textLength="28.4" lengthAdjust="spacingAndGlyphs" stroke="#a0a0a0" stroke-width="0.25"><tspan font-size="6.00">1.5 </tspan><tspan font-size="4.60">LX</tspan></text>
<rect x="587.0" y="461.2" width="10" height="10" fill="#0a10ee"/>
<text x="601.8" y="471.0" font-weight="normal" fill="#a0a0a0" textLength="16.0" lengthAdjust="spacingAndGlyphs" stroke="#a0a0a0" stroke-width="0.25"><tspan font-size="6.00">1 </tspan><tspan font-size="4.60">LX</tspan></text>
<rect x="648.0" y="461.2" width="10" height="10" fill="#221570"/>
<text x="662.8" y="471.0" font-weight="normal" fill="#a0a0a0" textLength="28.4" lengthAdjust="spacingAndGlyphs" stroke="#a0a0a0" stroke-width="0.25"><tspan font-size="6.00">0.5 </tspan><tspan font-size="4.60">LX</tspan></text>
<rect x="709.6" y="461.7" width="9" height="9" fill="none" stroke="#f4f4f4" stroke-width="1.3" stroke-dasharray="1.5 1.1"/>
<text x="723.5" y="471.0" font-weight="normal" fill="#a0a0a0" textLength="113.5" lengthAdjust="spacingAndGlyphs" stroke="#a0a0a0" stroke-width="0.25"><tspan font-size="5.00">STANDARD 7" HIGH BEAM</tspan></text>
<text x="106.1" y="712.2" font-weight="bold" fill="#f0f0f0" textLength="88.3" lengthAdjust="spacingAndGlyphs" ><tspan font-size="11.00">D7 2.0 K</tspan><tspan font-size="8.60">IT</tspan></text>
<text x="198.1" y="712.2" font-weight="bold" fill="#a8a8a8" textLength="69.9" lengthAdjust="spacingAndGlyphs" ><tspan font-size="7.90">// S</tspan><tspan font-size="6.20">POT</tspan><tspan font-size="7.90"> B</tspan><tspan font-size="6.20">EAM</tspan></text>
<text x="992.5" y="712.0" font-weight="bold" fill="#b4b4b4" textLength="52.8" lengthAdjust="spacingAndGlyphs" ><tspan font-size="7.20">D</tspan><tspan font-size="5.60">ISTANCE</tspan><tspan font-size="7.20">:</tspan></text>
<text x="1050.3" y="712.0" font-weight="bold" fill="#ffffff" textLength="41.1" lengthAdjust="spacingAndGlyphs" ><tspan font-size="7.40">1505</tspan><tspan font-size="5.60">FT</tspan></text>
<text x="1099.6" y="712.0" font-weight="normal" fill="#9a9a9a" textLength="5.0" lengthAdjust="spacingAndGlyphs" ><tspan font-size="7.00">//</tspan></text>
<text x="1113.3" y="712.0" font-weight="bold" fill="#b4b4b4" textLength="36.1" lengthAdjust="spacingAndGlyphs" ><tspan font-size="7.20">W</tspan><tspan font-size="5.60">IDTH</tspan><tspan font-size="7.20">:</tspan></text>
<text x="1153.1" y="712.0" font-weight="bold" fill="#ffffff" textLength="33.7" lengthAdjust="spacingAndGlyphs" ><tspan font-size="7.40">200</tspan><tspan font-size="5.60">FT</tspan></text>
<text x="1195.5" y="712.0" font-weight="normal" fill="#9a9a9a" textLength="5.7" lengthAdjust="spacingAndGlyphs" ><tspan font-size="7.00">//</tspan></text>
<text x="1209.2" y="712.0" font-weight="bold" fill="#b4b4b4" textLength="69.8" lengthAdjust="spacingAndGlyphs" ><tspan font-size="7.20">R</tspan><tspan font-size="5.60">AW</tspan><tspan font-size="7.20"> L</tspan><tspan font-size="5.60">UMENS</tspan><tspan font-size="7.20">:</tspan></text>
<text x="1285.2" y="712.0" font-weight="bold" fill="#ffffff" textLength="37.3" lengthAdjust="spacingAndGlyphs" ><tspan font-size="7.40">15330</tspan></text>
<text x="105.4" y="726.6" font-weight="bold" fill="#a4a4a4" textLength="105.9" lengthAdjust="spacingAndGlyphs" ><tspan font-size="6.60">S</tspan><tspan font-size="5.00">IGHT</tspan><tspan font-size="6.60"> D</tspan><tspan font-size="5.00">ISTANCE</tspan><tspan font-size="6.60"> </tspan><tspan font-size="5.00">AT</tspan><tspan font-size="6.60"> 68</tspan><tspan font-size="5.00">MPH</tspan></text>
<text x="227.6" y="726.9" font-weight="bold" fill="#a4a4a4" textLength="22.5" lengthAdjust="spacingAndGlyphs" ><tspan font-size="6.60">2 </tspan><tspan font-size="5.00">SEC</tspan></text>
<text x="289.0" y="726.9" font-weight="bold" fill="#a4a4a4" textLength="22.5" lengthAdjust="spacingAndGlyphs" ><tspan font-size="6.60">3 </tspan><tspan font-size="5.00">SEC</tspan></text>
<text x="347.8" y="726.9" font-weight="bold" fill="#a4a4a4" textLength="22.5" lengthAdjust="spacingAndGlyphs" ><tspan font-size="6.60">4 </tspan><tspan font-size="5.00">SEC</tspan></text>
<text x="409.3" y="726.9" font-weight="bold" fill="#a4a4a4" textLength="22.5" lengthAdjust="spacingAndGlyphs" ><tspan font-size="6.60">5 </tspan><tspan font-size="5.00">SEC</tspan></text>
<text x="470.8" y="726.9" font-weight="bold" fill="#a4a4a4" textLength="22.5" lengthAdjust="spacingAndGlyphs" ><tspan font-size="6.60">6 </tspan><tspan font-size="5.00">SEC</tspan></text>
<text x="529.9" y="726.9" font-weight="bold" fill="#a4a4a4" textLength="22.5" lengthAdjust="spacingAndGlyphs" ><tspan font-size="6.60">7 </tspan><tspan font-size="5.00">SEC</tspan></text>
<text x="590.4" y="726.9" font-weight="bold" fill="#a4a4a4" textLength="22.5" lengthAdjust="spacingAndGlyphs" ><tspan font-size="6.60">8 </tspan><tspan font-size="5.00">SEC</tspan></text>
<text x="651.8" y="726.9" font-weight="bold" fill="#a4a4a4" textLength="22.5" lengthAdjust="spacingAndGlyphs" ><tspan font-size="6.60">9 </tspan><tspan font-size="5.00">SEC</tspan></text>
<text x="704.8" y="726.9" font-weight="bold" fill="#a4a4a4" textLength="28.3" lengthAdjust="spacingAndGlyphs" ><tspan font-size="6.60">10 </tspan><tspan font-size="5.00">SEC</tspan></text>
<text x="768.6" y="726.9" font-weight="bold" fill="#a4a4a4" textLength="28.3" lengthAdjust="spacingAndGlyphs" ><tspan font-size="6.60">11 </tspan><tspan font-size="5.00">SEC</tspan></text>
<text x="827.9" y="726.9" font-weight="bold" fill="#a4a4a4" textLength="28.3" lengthAdjust="spacingAndGlyphs" ><tspan font-size="6.60">12 </tspan><tspan font-size="5.00">SEC</tspan></text>
<text x="889.3" y="726.9" font-weight="bold" fill="#a4a4a4" textLength="28.3" lengthAdjust="spacingAndGlyphs" ><tspan font-size="6.60">13 </tspan><tspan font-size="5.00">SEC</tspan></text>
<text x="948.0" y="726.9" font-weight="bold" fill="#a4a4a4" textLength="28.3" lengthAdjust="spacingAndGlyphs" ><tspan font-size="6.60">14 </tspan><tspan font-size="5.00">SEC</tspan></text>
<text x="1011.8" y="726.9" font-weight="bold" fill="#a4a4a4" textLength="28.3" lengthAdjust="spacingAndGlyphs" ><tspan font-size="6.60">15 </tspan><tspan font-size="5.00">SEC</tspan></text>
<text x="1070.6" y="726.9" font-weight="bold" fill="#a4a4a4" textLength="28.3" lengthAdjust="spacingAndGlyphs" ><tspan font-size="6.60">16 </tspan><tspan font-size="5.00">SEC</tspan></text>
<text x="1132.9" y="726.9" font-weight="bold" fill="#a4a4a4" textLength="28.3" lengthAdjust="spacingAndGlyphs" ><tspan font-size="6.60">17 </tspan><tspan font-size="5.00">SEC</tspan></text>
<text x="1194.1" y="726.9" font-weight="bold" fill="#a4a4a4" textLength="28.3" lengthAdjust="spacingAndGlyphs" ><tspan font-size="6.60">18 </tspan><tspan font-size="5.00">SEC</tspan></text>
<text x="1255.3" y="726.9" font-weight="bold" fill="#a4a4a4" textLength="28.3" lengthAdjust="spacingAndGlyphs" ><tspan font-size="6.60">19 </tspan><tspan font-size="5.00">SEC</tspan></text>
<text x="1312.9" y="726.9" font-weight="bold" fill="#a4a4a4" textLength="11.8" lengthAdjust="spacingAndGlyphs" ><tspan font-size="6.60">20</tspan></text>
<text x="104.8" y="928.2" font-size="9.00" font-weight="normal" fill="#eeeeee" text-anchor="start" textLength="13.2" lengthAdjust="spacingAndGlyphs" stroke="#eeeeee" stroke-width="0.35">FEET</text>
<text x="166.7" y="927.4" font-size="7.60" font-weight="normal" fill="#eeeeee" text-anchor="middle" textLength="10.1" lengthAdjust="spacingAndGlyphs" stroke="#eeeeee" stroke-width="0.3">100</text>
<text x="227.4" y="927.4" font-size="7.60" font-weight="normal" fill="#eeeeee" text-anchor="middle" textLength="10.1" lengthAdjust="spacingAndGlyphs" stroke="#eeeeee" stroke-width="0.3">200</text>
<text x="288.2" y="927.4" font-size="7.60" font-weight="normal" fill="#eeeeee" text-anchor="middle" textLength="10.1" lengthAdjust="spacingAndGlyphs" stroke="#eeeeee" stroke-width="0.3">300</text>
<text x="348.9" y="927.4" font-size="7.60" font-weight="normal" fill="#eeeeee" text-anchor="middle" textLength="10.1" lengthAdjust="spacingAndGlyphs" stroke="#eeeeee" stroke-width="0.3">400</text>
<text x="409.6" y="927.4" font-size="7.60" font-weight="normal" fill="#eeeeee" text-anchor="middle" textLength="10.1" lengthAdjust="spacingAndGlyphs" stroke="#eeeeee" stroke-width="0.3">500</text>
<text x="470.4" y="927.4" font-size="7.60" font-weight="normal" fill="#eeeeee" text-anchor="middle" textLength="10.1" lengthAdjust="spacingAndGlyphs" stroke="#eeeeee" stroke-width="0.3">600</text>
<text x="531.1" y="927.4" font-size="7.60" font-weight="normal" fill="#eeeeee" text-anchor="middle" textLength="10.1" lengthAdjust="spacingAndGlyphs" stroke="#eeeeee" stroke-width="0.3">700</text>
<text x="591.8" y="927.4" font-size="7.60" font-weight="normal" fill="#eeeeee" text-anchor="middle" textLength="10.1" lengthAdjust="spacingAndGlyphs" stroke="#eeeeee" stroke-width="0.3">800</text>
<text x="652.5" y="927.4" font-size="7.60" font-weight="normal" fill="#eeeeee" text-anchor="middle" textLength="10.1" lengthAdjust="spacingAndGlyphs" stroke="#eeeeee" stroke-width="0.3">900</text>
<text x="713.2" y="927.4" font-size="7.60" font-weight="normal" fill="#eeeeee" text-anchor="middle" textLength="13.4" lengthAdjust="spacingAndGlyphs" stroke="#eeeeee" stroke-width="0.3">1000</text>
<text x="774.0" y="927.4" font-size="7.60" font-weight="normal" fill="#eeeeee" text-anchor="middle" textLength="13.4" lengthAdjust="spacingAndGlyphs" stroke="#eeeeee" stroke-width="0.3">1100</text>
<text x="834.7" y="927.4" font-size="7.60" font-weight="normal" fill="#eeeeee" text-anchor="middle" textLength="13.4" lengthAdjust="spacingAndGlyphs" stroke="#eeeeee" stroke-width="0.3">1200</text>
<text x="895.4" y="927.4" font-size="7.60" font-weight="normal" fill="#eeeeee" text-anchor="middle" textLength="13.4" lengthAdjust="spacingAndGlyphs" stroke="#eeeeee" stroke-width="0.3">1300</text>
<text x="956.1" y="927.4" font-size="7.60" font-weight="normal" fill="#eeeeee" text-anchor="middle" textLength="13.4" lengthAdjust="spacingAndGlyphs" stroke="#eeeeee" stroke-width="0.3">1400</text>
<text x="1016.9" y="927.4" font-size="7.60" font-weight="normal" fill="#eeeeee" text-anchor="middle" textLength="13.4" lengthAdjust="spacingAndGlyphs" stroke="#eeeeee" stroke-width="0.3">1500</text>
<text x="1077.6" y="927.4" font-size="7.60" font-weight="normal" fill="#eeeeee" text-anchor="middle" textLength="13.4" lengthAdjust="spacingAndGlyphs" stroke="#eeeeee" stroke-width="0.3">1600</text>
<text x="1138.3" y="927.4" font-size="7.60" font-weight="normal" fill="#eeeeee" text-anchor="middle" textLength="13.4" lengthAdjust="spacingAndGlyphs" stroke="#eeeeee" stroke-width="0.3">1700</text>
<text x="1199.0" y="927.4" font-size="7.60" font-weight="normal" fill="#eeeeee" text-anchor="middle" textLength="13.4" lengthAdjust="spacingAndGlyphs" stroke="#eeeeee" stroke-width="0.3">1800</text>
<text x="1259.8" y="927.4" font-size="7.60" font-weight="normal" fill="#eeeeee" text-anchor="middle" textLength="13.4" lengthAdjust="spacingAndGlyphs" stroke="#eeeeee" stroke-width="0.3">1900</text>
<text x="1320.5" y="927.4" font-size="7.60" font-weight="normal" fill="#eeeeee" text-anchor="middle" textLength="13.4" lengthAdjust="spacingAndGlyphs" stroke="#eeeeee" stroke-width="0.3">2000</text>
<text x="1329.5" y="751.4" font-size="7.40" font-weight="normal" fill="#eeeeee" text-anchor="middle" textLength="9.6" lengthAdjust="spacingAndGlyphs" stroke="#eeeeee" stroke-width="0.25">125</text>
<text x="1329.5" y="766.6" font-size="7.40" font-weight="normal" fill="#eeeeee" text-anchor="middle" textLength="9.6" lengthAdjust="spacingAndGlyphs" stroke="#eeeeee" stroke-width="0.25">100</text>
<text x="1329.5" y="781.9" font-size="7.40" font-weight="normal" fill="#eeeeee" text-anchor="middle" textLength="6.4" lengthAdjust="spacingAndGlyphs" stroke="#eeeeee" stroke-width="0.25">75</text>
<text x="1329.5" y="797.2" font-size="7.40" font-weight="normal" fill="#eeeeee" text-anchor="middle" textLength="6.4" lengthAdjust="spacingAndGlyphs" stroke="#eeeeee" stroke-width="0.25">50</text>
<text x="1329.5" y="812.5" font-size="7.40" font-weight="normal" fill="#eeeeee" text-anchor="middle" textLength="6.4" lengthAdjust="spacingAndGlyphs" stroke="#eeeeee" stroke-width="0.25">25</text>
<text x="1329.5" y="843.0" font-size="7.40" font-weight="normal" fill="#eeeeee" text-anchor="middle" textLength="8.8" lengthAdjust="spacingAndGlyphs" stroke="#eeeeee" stroke-width="0.25">-25</text>
<text x="1329.5" y="858.3" font-size="7.40" font-weight="normal" fill="#eeeeee" text-anchor="middle" textLength="8.8" lengthAdjust="spacingAndGlyphs" stroke="#eeeeee" stroke-width="0.25">-50</text>
<text x="1329.5" y="873.5" font-size="7.40" font-weight="normal" fill="#eeeeee" text-anchor="middle" textLength="8.8" lengthAdjust="spacingAndGlyphs" stroke="#eeeeee" stroke-width="0.25">-75</text>
<text x="1329.5" y="888.8" font-size="7.40" font-weight="normal" fill="#eeeeee" text-anchor="middle" textLength="12.0" lengthAdjust="spacingAndGlyphs" stroke="#eeeeee" stroke-width="0.25">-100</text>
<text x="1329.5" y="904.1" font-size="7.40" font-weight="normal" fill="#eeeeee" text-anchor="middle" textLength="12.0" lengthAdjust="spacingAndGlyphs" stroke="#eeeeee" stroke-width="0.25">-125</text>
<rect x="105.0" y="935.2" width="10" height="10" fill="#ee1111"/>
<text x="119.8" y="945.0" font-weight="normal" fill="#a0a0a0" textLength="28.4" lengthAdjust="spacingAndGlyphs" stroke="#a0a0a0" stroke-width="0.25"><tspan font-size="6.00">100 </tspan><tspan font-size="4.60">LX</tspan></text>
<rect x="163.0" y="935.2" width="10" height="10" fill="#f08a28"/>
<text x="177.8" y="945.0" font-weight="normal" fill="#a0a0a0" textLength="23.2" lengthAdjust="spacingAndGlyphs" stroke="#a0a0a0" stroke-width="0.25"><tspan font-size="6.00">75 </tspan><tspan font-size="4.60">LX</tspan></text>
<rect x="223.0" y="935.2" width="10" height="10" fill="#fbb81a"/>
<text x="237.8" y="945.0" font-weight="normal" fill="#a0a0a0" textLength="23.2" lengthAdjust="spacingAndGlyphs" stroke="#a0a0a0" stroke-width="0.25"><tspan font-size="6.00">50 </tspan><tspan font-size="4.60">LX</tspan></text>
<rect x="284.0" y="935.2" width="10" height="10" fill="#f2ea2c"/>
<text x="298.8" y="945.0" font-weight="normal" fill="#a0a0a0" textLength="23.2" lengthAdjust="spacingAndGlyphs" stroke="#a0a0a0" stroke-width="0.25"><tspan font-size="6.00">25 </tspan><tspan font-size="4.60">LX</tspan></text>
<rect x="344.0" y="935.2" width="10" height="10" fill="#bcf11e"/>
<text x="358.8" y="945.0" font-weight="normal" fill="#a0a0a0" textLength="23.2" lengthAdjust="spacingAndGlyphs" stroke="#a0a0a0" stroke-width="0.25"><tspan font-size="6.00">10 </tspan><tspan font-size="4.60">LX</tspan></text>
<rect x="405.0" y="935.2" width="10" height="10" fill="#18ee22"/>
<text x="419.8" y="945.0" font-weight="normal" fill="#a0a0a0" textLength="16.0" lengthAdjust="spacingAndGlyphs" stroke="#a0a0a0" stroke-width="0.25"><tspan font-size="6.00">5 </tspan><tspan font-size="4.60">LX</tspan></text>
<rect x="466.0" y="935.2" width="10" height="10" fill="#22eef0"/>
<text x="480.8" y="945.0" font-weight="normal" fill="#a0a0a0" textLength="16.0" lengthAdjust="spacingAndGlyphs" stroke="#a0a0a0" stroke-width="0.25"><tspan font-size="6.00">2 </tspan><tspan font-size="4.60">LX</tspan></text>
<rect x="527.0" y="935.2" width="10" height="10" fill="#1ab6ee"/>
<text x="541.8" y="945.0" font-weight="normal" fill="#a0a0a0" textLength="28.4" lengthAdjust="spacingAndGlyphs" stroke="#a0a0a0" stroke-width="0.25"><tspan font-size="6.00">1.5 </tspan><tspan font-size="4.60">LX</tspan></text>
<rect x="587.0" y="935.2" width="10" height="10" fill="#0a10ee"/>
<text x="601.8" y="945.0" font-weight="normal" fill="#a0a0a0" textLength="16.0" lengthAdjust="spacingAndGlyphs" stroke="#a0a0a0" stroke-width="0.25"><tspan font-size="6.00">1 </tspan><tspan font-size="4.60">LX</tspan></text>
<rect x="648.0" y="935.2" width="10" height="10" fill="#221570"/>
<text x="662.8" y="945.0" font-weight="normal" fill="#a0a0a0" textLength="28.4" lengthAdjust="spacingAndGlyphs" stroke="#a0a0a0" stroke-width="0.25"><tspan font-size="6.00">0.5 </tspan><tspan font-size="4.60">LX</tspan></text>
<rect x="709.6" y="935.7" width="9" height="9" fill="none" stroke="#f4f4f4" stroke-width="1.3" stroke-dasharray="1.5 1.1"/>
<text x="723.5" y="945.0" font-weight="normal" fill="#a0a0a0" textLength="113.5" lengthAdjust="spacingAndGlyphs" stroke="#a0a0a0" stroke-width="0.25"><tspan font-size="5.00">STANDARD 7" HIGH BEAM</tspan></text>
<text x="104.0" y="167.9" font-size="32.40" font-weight="bold" fill="#f8f8f8" text-anchor="start" textLength="382.4" lengthAdjust="spacingAndGlyphs" stroke="#f8f8f8" stroke-width="2.6" stroke-linejoin="round">D7 Pod Beam Pattern</text>
<text x="104.0" y="641.9" font-size="32.40" font-weight="bold" fill="#f8f8f8" text-anchor="start" textLength="363.8" lengthAdjust="spacingAndGlyphs" stroke="#f8f8f8" stroke-width="2.6" stroke-linejoin="round">D7 Kit Beam Pattern</text>
</svg>
</body></html>
